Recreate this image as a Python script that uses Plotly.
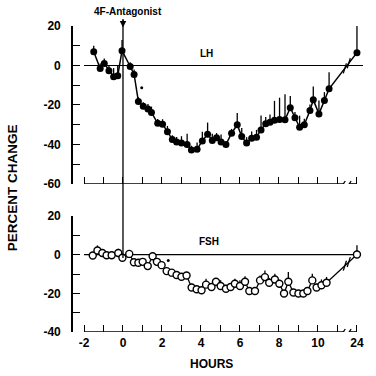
import plotly.graph_objects as go

# ---------------- data ----------------
# LH (top panel): hours, percent change, upper error
lh_hours = [-1.5, -1.17, -0.96, -0.72, -0.48, -0.27, -0.05, 0.37, 0.57, 0.79, 1.04, 1.28, 1.46,
            1.78, 2.03, 2.28, 2.53, 2.75, 3.0, 3.29, 3.51, 3.8, 4.07, 4.34, 4.58, 4.8, 5.03,
            5.28, 5.57, 5.86, 6.09, 6.34, 6.6, 6.85, 7.08, 7.32, 7.54, 7.77, 8.03, 8.31, 8.58,
            8.82, 9.06, 9.3, 9.59, 9.76, 10.05, 10.33, 10.57, 24]
lh_values = [7, -1.5, 1, -2.7, -5.7, -5.2, 7.5, -0.5, -4.5, -18.2, -20.6, -22, -23.8,
             -29.3, -29.7, -33.5, -37.5, -38.7, -39.3, -40, -42.8, -42.4, -38.2, -34.8, -38, -36.6, -38.8,
             -40, -34.3, -30, -36, -39.3, -36.8, -36.3, -32.6, -29.5, -28.7, -27.7, -27.3, -27.5, -21.4,
             -26.5, -31.3, -30, -22.8, -17.4, -24.5, -17.7, -11.8, 6.5]
lh_err = [3, 2.5, 2.5, 3, 4.4, 5, 5.4, 2.2, 2.5, 2.2, 2, 2.5, 3,
          2.2, 2.5, 2.9, 2.2, 2.5, 3.5, 5.4, 2.2, 3.4, 4.6, 5.9, 3.4, 2.4, 3.9,
          1.2, 2.2, 5.9, 4.4, 3, 3.4, 3.7, 7.3, 3.4, 3.9, 9.8, 11, 13, 5.9,
          3, 5.9, 3, 3, 6.8, 6.8, 4.2, 8.4, 13.5]

# FSH (bottom panel)
fsh_hours = [-1.55, -1.31, -1.06, -0.84, -0.58, -0.24, -0.03, 0.32, 0.56, 0.79, 1.01, 1.27, 1.52,
             1.74, 1.98, 2.24, 2.5, 2.75, 3.0, 3.26, 3.52, 3.78, 4.03, 4.26, 4.54, 4.77, 5.01,
             5.28, 5.52, 5.74, 6.0, 6.26, 6.48, 6.77, 7.03, 7.28, 7.5, 7.79, 8.02, 8.26, 8.48,
             8.74, 9.0, 9.25, 9.46, 9.71, 9.93, 10.18, 10.44, 24]
fsh_values = [-0.4, 2.2, 0.9, -0.3, -0.3, 0.9, -1.6, 0.4, -3.9, -4.2, -3.7, -5.9, -0.8,
              -3.7, -5.4, -8.5, -9.3, -10.5, -11.4, -10.8, -17, -17.9, -18.4, -15.5, -16.7, -14, -16.2,
              -17.6, -16.7, -15, -16.2, -14, -18.8, -18.8, -13.3, -11.6, -14.5, -12.8, -15, -20.1, -14,
              -19.6, -20.1, -20.1, -18.8, -13.3, -17, -15.8, -14.5, 0.1]
fsh_err = [1.5, 2.6, 1.5, 1.5, 1.5, 2.2, 2, 1.5, 1.5, 1.5, 1.5, 1.5, 2,
           1.5, 1.5, 1.5, 1.5, 1.5, 1.5, 1.7, 2, 1.5, 1.5, 3, 2, 2, 3,
           2, 2, 2.5, 3, 2.9, 1.5, 1.5, 2.5, 3.4, 2.5, 3, 2, 1.5, 5,
           1.5, 1.5, 1.5, 1.5, 3.4, 2, 3, 3, 4.8]

# significance markers (asterisks)
lh_star = (0.96, -11.3)
fsh_star = (2.32, -3.0)

x_tick_vals = [-2, -1, 0, 1, 2, 3, 4, 5, 6, 7, 8, 9, 10, 11, 24]
x_tick_text = ["-2", "", "0", "", "2", "", "4", "", "6", "", "8", "", "10", "", "24"]
lh_y_ticks = [20, 10, 0, -10, -20, -30, -40, -50, -60]
lh_y_text = ["20", "", "0", "", "-20", "", "-40", "", "-60"]
fsh_y_ticks = [20, 10, 0, -10, -20, -30, -40]
fsh_y_text = ["20", "", "0", "", "-20", "", "-40"]

# ---------------- broken axis mapping ----------------
BREAK_POS = 12.0   # plotted position of hour 24


def pos(h):
    return BREAK_POS if h >= 24 else h


def pos_list(hs):
    return [pos(h) for h in hs]


FONT = "Liberation Sans, Arial, sans-serif"
XR = [-2.564, 12.31]

fig = go.Figure()

fig.add_trace(go.Scatter(
    x=pos_list(lh_hours), y=lh_values, mode="lines+markers",
    line=dict(color="black", width=1.5),
    marker=dict(color="black", size=7, symbol="circle"),
    error_y=dict(type="data", array=lh_err, arrayminus=[0] * len(lh_err), symmetric=False,
                 color="black", thickness=1.3, width=0),
    xaxis="x", yaxis="y", showlegend=False, hoverinfo="skip"))

fig.add_trace(go.Scatter(
    x=pos_list(fsh_hours), y=fsh_values, mode="lines+markers",
    line=dict(color="black", width=1.3),
    marker=dict(color="white", size=7, symbol="circle", line=dict(color="black", width=1.4)),
    error_y=dict(type="data", array=fsh_err, arrayminus=[0] * len(fsh_err), symmetric=False,
                 color="black", thickness=1.3, width=0),
    xaxis="x2", yaxis="y2", showlegend=False, hoverinfo="skip"))

fig.add_trace(go.Scatter(x=[lh_star[0]], y=[lh_star[1]], mode="markers",
                         marker=dict(color="black", size=3), xaxis="x", yaxis="y",
                         showlegend=False, hoverinfo="skip"))
fig.add_trace(go.Scatter(x=[fsh_star[0]], y=[fsh_star[1]], mode="markers",
                         marker=dict(color="black", size=3), xaxis="x2", yaxis="y2",
                         showlegend=False, hoverinfo="skip"))

shapes = []
# zero reference lines
shapes.append(dict(type="line", xref="x", yref="y", x0=-2, x1=12.31, y0=0, y1=0,
                   line=dict(color="black", width=1.2), layer="below"))
shapes.append(dict(type="line", xref="x2", yref="y2", x0=-2, x1=BREAK_POS, y0=0, y1=0,
                   line=dict(color="black", width=1.2), layer="below"))

# x axis lines with break
for xr, yr, base, du in (("x", "y", -60, 1.975), ("x2", "y2", -40, 1.945)):
    shapes.append(dict(type="line", xref=xr, yref=yr, x0=-2, x1=11.3, y0=base, y1=base,
                       line=dict(color="black", width=1.6)))
    shapes.append(dict(type="line", xref=xr, yref=yr, x0=11.62, x1=BREAK_POS, y0=base, y1=base,
                       line=dict(color="black", width=1.6)))
    for cx in (11.3, 11.6):
        shapes.append(dict(type="line", xref=xr, yref=yr, x0=cx - 0.1, x1=cx + 0.1,
                           y0=base - 3 / du, y1=base + 3 / du,
                           line=dict(color="black", width=1.3)))


# break slashes on the data lines (decoration)
def slash_marks(hs, vs, xr, yr, du):
    x0, y0 = pos(hs[-2]), vs[-2]
    x1, y1 = pos(hs[-1]), vs[-1]
    out = []
    for cx in (11.38, 11.58):
        cy = y0 + (y1 - y0) * (cx - x0) / (x1 - x0)
        out.append(dict(type="line", xref=xr, yref=yr, x0=cx - 0.08, x1=cx + 0.08,
                        y0=cy - 5 / du, y1=cy + 5 / du, line=dict(color="black", width=1.3)))
    return out


shapes += slash_marks(lh_hours, lh_values, "x", "y", 1.975)
shapes += slash_marks(fsh_hours, fsh_values, "x2", "y2", 1.945)

# treatment line at time 0 crossing both panels
shapes.append(dict(type="line", xref="x", yref="paper", x0=0, x1=0, y0=0.242, y1=1.02,
                   line=dict(color="black", width=1.3)))

annotations = [
    dict(text="<b>4F-Antagonist</b>", x=0.26, y=1.049, xref="x", yref="paper", showarrow=False,
         xanchor="center", yanchor="middle", font=dict(family=FONT, size=10, color="black")),
    dict(text="", x=0, y=0.995, xref="x", yref="paper", showarrow=True, ax=0, ay=-10,
         arrowhead=2, arrowsize=1, arrowwidth=1.3, arrowcolor="black"),
    dict(text="<b>LH</b>", x=4.3, y=6.2, xref="x", yref="y", showarrow=False,
         font=dict(family=FONT, size=10, color="black")),
    dict(text="<b>FSH</b>", x=4.4, y=7, xref="x2", yref="y2", showarrow=False,
         font=dict(family=FONT, size=10, color="black")),
    dict(text="<b>PERCENT CHANGE</b>", x=-0.21, y=0.47, xref="paper", yref="paper",
         xanchor="center", yanchor="middle",
         showarrow=False, textangle=-90, font=dict(family=FONT, size=13.5, color="black")),
    dict(text="<b>HOURS</b>", x=4.56, y=-0.105, xref="x2", yref="paper", showarrow=False,
         xanchor="center", yanchor="middle",
         font=dict(family=FONT, size=12, color="black")),
]

tickfont = dict(family=FONT, size=12, color="black", weight="bold")

common_x = dict(range=XR, showgrid=False, zeroline=False,
                showline=True, linecolor="rgba(0,0,0,0)", linewidth=1,
                ticks="inside", ticklen=7, tickwidth=1.4, tickcolor="black",
                tickvals=[pos(v) for v in x_tick_vals], ticktext=x_tick_text, tickfont=tickfont)
common_y = dict(showgrid=False, zeroline=False, showline=True, linecolor="black", linewidth=1.6,
                ticks="inside", ticklen=7, tickwidth=1.4, tickcolor="black", tickfont=tickfont,
                ticklabelstandoff=8)

fig.update_layout(
    width=376, height=376,
    margin=dict(l=73, r=13, t=26, b=44),
    paper_bgcolor="white", plot_bgcolor="white",
    xaxis=dict(common_x, domain=[0, 1], anchor="y", showticklabels=False),
    xaxis2=dict(common_x, domain=[0, 1], anchor="y2", showticklabels=True),
    yaxis=dict(common_y, domain=[0.4837, 1], anchor="x", range=[-60, 20],
               tickvals=lh_y_ticks, ticktext=lh_y_text),
    yaxis2=dict(common_y, domain=[0, 0.379], anchor="x2", range=[-40, 20],
                tickvals=fsh_y_ticks, ticktext=fsh_y_text),
    shapes=shapes, annotations=annotations,
)

fig.write_html("out.html", config={"displayModeBar": False},
               post_script="document.body.style.margin='0';document.body.style.padding='0';")
